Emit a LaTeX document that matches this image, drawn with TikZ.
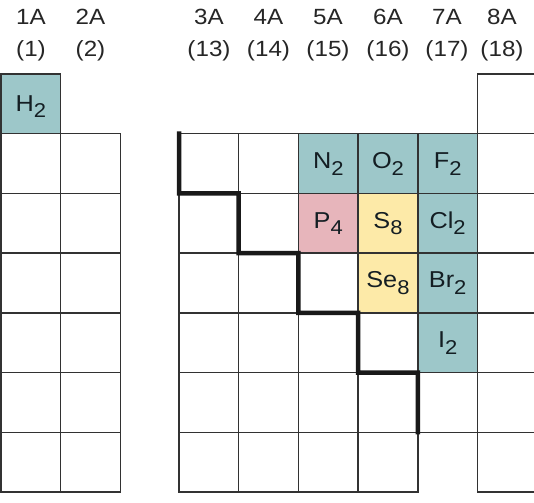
\documentclass[tikz,border=0pt]{standalone}
\usepackage{fontspec}
\setmainfont{Liberation Sans}[FakeStretch=1.1]
\definecolor{cteal}{RGB}{157,199,201}
\definecolor{cpink}{RGB}{231,181,187}
\definecolor{cyell}{RGB}{253,234,168}
\definecolor{gridc}{RGB}{50,50,50}
\definecolor{txtc}{RGB}{20,30,35}
\newcommand{\msub}[1]{\raisebox{-6.5pt}{\fontsize{20}{20}\selectfont #1}}
\begin{document}
\begin{tikzpicture}[x=1pt,y=-1pt,
  cell/.style={draw=gridc, line width=1.4pt, fill=white, minimum width=59.7pt, minimum height=59.7pt, inner sep=0pt, outer sep=0pt, anchor=north west},
  tealcell/.style={cell, fill=cteal},
  pinkcell/.style={cell, fill=cpink},
  yellcell/.style={cell, fill=cyell},
  lab/.style={anchor=base, inner sep=0pt, text=txtc, font=\fontsize{23}{23}\selectfont},
  hdr/.style={anchor=base, inner sep=0pt, text=black!85, font=\fontsize{22}{22}\selectfont},
  stair/.style={draw=black!90, line width=4.5pt, line join=miter, line cap=rect}]
\useasboundingbox (0,0) rectangle (534,502);
\clip (0,0) rectangle (534,502);
% left block
\node[tealcell] (c10) at (1,74) {};
\foreach \r in {1,...,6}{
  \node[cell] (c1\r) at (1,74+\r*59.7) {};
  \node[cell] (c2\r) at (60.7,74+\r*59.7) {};
}
% right block, white cells
\foreach \c/\rows in {3/{1,2,3,4,5,6},4/{1,2,3,4,5,6},5/{3,4,5,6},6/{4,5,6},7/{5}}{
  \foreach \r in \rows{
    \node[cell] (c\c\r) at (179+\c*59.7-3*59.7,74+\r*59.7) {};
  }
}
\foreach \r in {0,...,6}{
  \node[cell] (c8\r) at (179+5*59.7,74+\r*59.7) {};
}
% coloured cells
\node[tealcell] (c51) at (179+2*59.7,74+1*59.7) {};
\node[tealcell] (c61) at (179+3*59.7,74+1*59.7) {};
\node[tealcell] (c71) at (179+4*59.7,74+1*59.7) {};
\node[pinkcell] (c52) at (179+2*59.7,74+2*59.7) {};
\node[yellcell] (c62) at (179+3*59.7,74+2*59.7) {};
\node[tealcell] (c72) at (179+4*59.7,74+2*59.7) {};
\node[yellcell] (c63) at (179+3*59.7,74+3*59.7) {};
\node[tealcell] (c73) at (179+4*59.7,74+3*59.7) {};
\node[tealcell] (c74) at (179+4*59.7,74+4*59.7) {};
% labels
\node[lab] (tH) at ([yshift=-7.5pt]c10.center) {H\msub{2}};
\node[lab] (tN) at ([yshift=-5pt]c51.center) {N\msub{2}};
\node[lab] (tO) at ([yshift=-5pt]c61.center) {O\msub{2}};
\node[lab] (tF) at ([yshift=-5pt]c71.center) {F\msub{2}};
\node[lab] (tP) at ([yshift=-5pt]c52.center) {P\msub{4}};
\node[lab] (tS) at ([yshift=-5pt]c62.center) {S\msub{8}};
\node[lab] (tCl) at ([yshift=-5pt]c72.center) {Cl\msub{2}};
\node[lab] (tSe) at ([yshift=-5pt]c63.center) {Se\msub{8}};
\node[lab] (tBr) at ([yshift=-5pt]c73.center) {Br\msub{2}};
\node[lab] (tI) at ([yshift=-5pt]c74.center) {I\msub{2}};
% staircase
\draw[stair] (c31.north west) -- (c31.south west) -- (c42.north west) -- (c42.south west)
  -- (c53.north west) -- (c53.south west) -- (c64.north west) -- (c64.south west)
  -- (c65.north east) -- (c65.south east);
% headers
\foreach \x/\g/\n [count=\i] in {31/1A/1, 90.5/2A/2, 209/3A/13, 268.5/4A/14, 328/5A/15, 388/6A/16, 447/7A/17, 502/8A/18}{
  \node[hdr] (g\i) at (\x,24.5) {\g};
  \node[hdr] (n\i) at (\x,57) {(\n)};
}
\end{tikzpicture}
\end{document}
